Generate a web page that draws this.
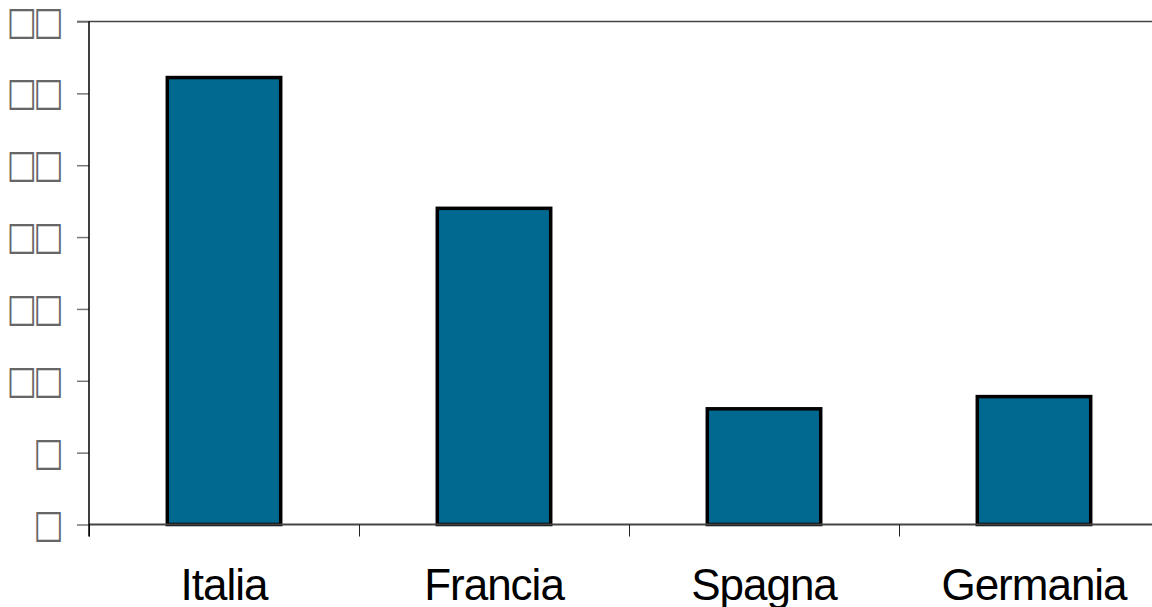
<!DOCTYPE html>
<html>
<head>
<meta charset="utf-8">
<script src="https://cdn.jsdelivr.net/npm/d3@7"></script>
<style>
  body { margin: 0; background: #fff; }
</style>
</head>
<body>
<div id="chart"></div>
<script>
// Data
const categories = ["Italia", "Francia", "Spagna", "Germania"];
const values = [31.1, 22.0, 8.05, 8.9];
const yTicks = [0, 5, 10, 15, 20, 25, 30, 35];

const width = 1152;
const height = 607;
const margin = { top: 22, right: -17, bottom: 82, left: 89 };

const svg = d3
  .select("#chart")
  .append("svg")
  .attr("width", width)
  .attr("height", height);

const x = d3
  .scaleBand()
  .domain(categories)
  .range([margin.left, width - margin.right])
  .paddingInner(0.58)
  .paddingOuter(0.29);

const xOuter = d3
  .scaleBand()
  .domain(categories)
  .range([margin.left, width - margin.right]);

const y = d3
  .scaleLinear()
  .domain([0, 35])
  .range([height - margin.bottom - 0.5, margin.top - 0.5]);

// top border of plot area
svg
  .append("line")
  .attr("x1", 77)
  .attr("x2", width)
  .attr("y1", y(35))
  .attr("y2", y(35))
  .attr("stroke", "#444")
  .attr("stroke-width", 1.5);

// y axis: tick labels drawn as the empty boxes seen in the picture
const yAxis = d3
  .axisLeft(y)
  .tickValues(yTicks)
  .tickSize(12)
  .tickPadding(17)
  .tickFormat((d) => String(d).replace(/\d/g, "\u25A1"));

const gy = svg
  .append("g")
  .attr("transform", `translate(${margin.left}, 0)`)
  .call(yAxis);
gy.select(".domain").remove();
gy.selectAll(".tick line").attr("stroke", "#777").attr("stroke-width", 1.5);
gy.selectAll(".tick text")
  .style("font-family", "DejaVu Sans")
  .style("font-size", "32px")
  .style("letter-spacing", "-3.5px")
  .attr("dy", "0.3em")
  .attr("transform", "scale(1, 1.2)")
  .attr("fill", "#666");

// bars
svg
  .selectAll("rect.bar")
  .data(values)
  .enter()
  .append("rect")
  .attr("class", "bar")
  .attr("x", (d, i) => x(categories[i]))
  .attr("y", (d) => y(d))
  .attr("width", x.bandwidth())
  .attr("height", (d) => y(0) - y(d))
  .attr("fill", "#016890")
  .attr("stroke", "#000")
  .attr("stroke-width", 3.5);

// x axis line and category ticks
svg
  .append("line")
  .attr("x1", margin.left)
  .attr("x2", width)
  .attr("y1", y(0))
  .attr("y2", y(0))
  .attr("stroke", "#444")
  .attr("stroke-width", 2);

svg
  .selectAll("line.cat")
  .data(categories)
  .enter()
  .append("line")
  .attr("class", "cat")
  .attr("x1", (d) => xOuter(d) + 0.5)
  .attr("x2", (d) => xOuter(d) + 0.5)
  .attr("y1", y(0))
  .attr("y2", y(0) + 12)
  .attr("stroke", "#222")
  .attr("stroke-width", 1);

// y axis line
svg
  .append("line")
  .attr("x1", margin.left)
  .attr("x2", margin.left)
  .attr("y1", y(35))
  .attr("y2", y(0) + 12)
  .attr("stroke", "#000")
  .attr("stroke-width", 1.5);

// category labels
svg
  .selectAll("text.cat")
  .data(categories)
  .enter()
  .append("text")
  .attr("class", "cat")
  .attr("x", (d) => xOuter(d) + xOuter.bandwidth() / 2)
  .attr("y", 600)
  .attr("text-anchor", "middle")
  .style("font-family", "Liberation Sans")
  .style("font-size", "44px")
  .style("letter-spacing", "-1px")
  .text((d) => d);
</script>
</body>
</html>
